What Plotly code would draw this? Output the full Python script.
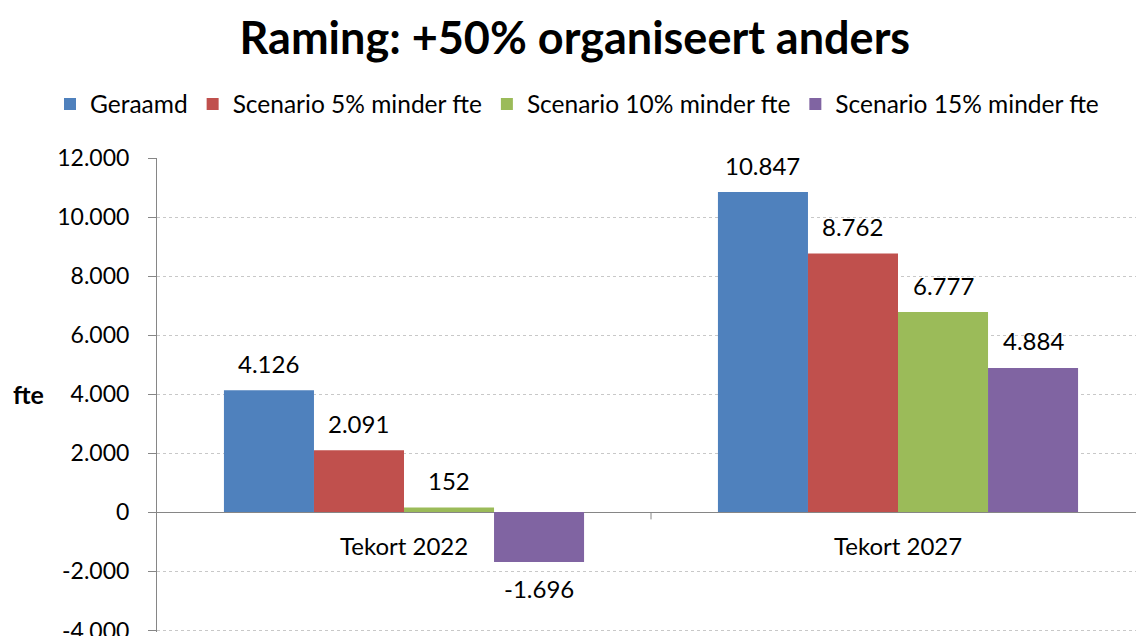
import plotly.graph_objects as go

# Categories and series values (fte)
categories = ["Tekort 2022", "Tekort 2027"]
series_names = ["Geraamd", "Scenario 5% minder fte", "Scenario 10% minder fte", "Scenario 15% minder fte"]
geraamd = [4126, 10847]
scenario_5 = [2091, 8762]
scenario_10 = [152, 6777]
scenario_15 = [-1696, 4884]
y_ticks = [-4000, -2000, 0, 2000, 4000, 6000, 8000, 10000, 12000]

series_values = [geraamd, scenario_5, scenario_10, scenario_15]
colors = ["#4F81BD", "#C0504D", "#9BBB59", "#8064A2"]
FONT = "Lato"


def nl_number(v):
    """Dutch style thousands separator, plain hyphen for negatives."""
    s = f"{abs(v):,}".replace(",", ".")
    return ("-" if v < 0 else "") + s


bargap = 0.271
n_series = len(series_values)
bar_w = (1 - bargap) / n_series

# plot area geometry (pixels)
L, T, B = 157, 158, 4
PLOT_W = 1136 - L
PLOT_H = 636 - T - B
Y_MAX = 12000
Y_MIN = Y_MAX - 16000 * PLOT_H / 472
LABEL_RIGHT = 131  # right edge of the y tick labels

fig = go.Figure()
for name, vals, col in zip(series_names, series_values, colors):
    fig.add_trace(go.Bar(
        name=name,
        x=list(range(len(categories))),
        y=vals,
        marker=dict(color=col, line=dict(width=0)),
        hoverinfo="skip",
    ))

annotations = []
# value labels above/below each bar
for j, vals in enumerate(series_values):
    for i, v in enumerate(vals):
        annotations.append(dict(
            x=i + (j - (n_series - 1) / 2) * bar_w, y=v, xref="x", yref="y",
            text=nl_number(v), showarrow=False,
            yshift=27 if v >= 0 else -26, yanchor="middle", xanchor="center",
            font=dict(family=FONT, size=24, color="#000000"),
        ))
# category labels just below the zero line
for i, c in enumerate(categories):
    annotations.append(dict(
        x=i, y=0, xref="x", yref="y", text=c, showarrow=False,
        yshift=-33, yanchor="middle", xanchor="center",
        font=dict(family=FONT, size=24, color="#000000"),
    ))
# lowest tick label sits on the bottom edge, drawn separately so it is not dropped
bottom_tick = min(y_ticks)
annotations.append(dict(
    x=(LABEL_RIGHT - L) / PLOT_W, y=bottom_tick, xref="paper", yref="y",
    text=nl_number(bottom_tick), showarrow=False, xanchor="right", yanchor="middle",
    font=dict(family=FONT, size=23, color="#000000"),
))
# y axis title, horizontal
annotations.append(dict(
    x=(28 - L) / PLOT_W, y=(636 - B - 394) / PLOT_H, xref="paper", yref="paper",
    text="<b>fte</b>", showarrow=False, xanchor="center", yanchor="middle",
    font=dict(family=FONT, size=25, color="#000000"),
))

fig.update_layout(
    width=1136, height=636,
    margin=dict(l=L, r=0, t=T, b=B),
    paper_bgcolor="#FFFFFF", plot_bgcolor="#FFFFFF",
    barmode="group", bargap=bargap, bargroupgap=0,
    font=dict(family=FONT, size=23, color="#000000"),
    title=dict(
        text="<b>Raming: +50% organiseert anders</b>",
        x=0.506, xanchor="center", xref="container",
        y=1 - 38 / 636, yanchor="middle", yref="container",
        font=dict(family=FONT, size=45, color="#000000"),
    ),
    legend=dict(
        orientation="h", x=(50 - L) / PLOT_W, xanchor="left",
        y=1 + 54 / PLOT_H, yanchor="middle",
        font=dict(family=FONT, size=24.5, color="#000000"),
        itemsizing="constant", traceorder="normal",
    ),
    xaxis=dict(
        range=[-0.5, -0.5 + PLOT_W / 494],
        showticklabels=False, showgrid=False, zeroline=False, showline=False,
        ticks="",
    ),
    yaxis=dict(
        range=[Y_MIN, Y_MAX],
        tickvals=y_ticks,
        ticktext=["" if v == bottom_tick else nl_number(v) for v in y_ticks],
        showgrid=True, gridcolor="#C8C8C8", griddash="dot", gridwidth=1,
        zeroline=True, zerolinecolor="#868686", zerolinewidth=1,
        showline=True, linecolor="#868686", linewidth=1,
        ticks="outside", ticklen=8, tickcolor="#868686",
        tickfont=dict(family=FONT, size=23, color="#000000"),
        ticklabelstandoff=14,
    ),
    annotations=annotations,
    shapes=[dict(
        type="line", xref="x", yref="y", x0=0.5, x1=0.5, y0=0, y1=-250,
        line=dict(color="#868686", width=1),
    )],
)

fig.write_html("out.html")
